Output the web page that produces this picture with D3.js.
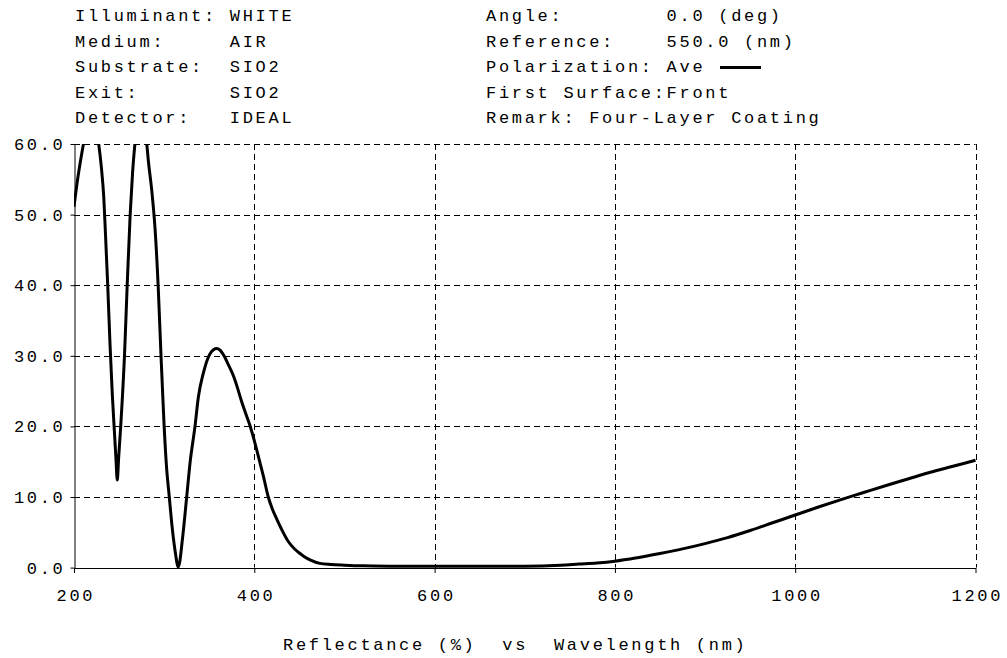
<!DOCTYPE html>
<html><head><meta charset="utf-8">
<script src="https://cdn.jsdelivr.net/npm/d3@7"></script>
<style>
body{margin:0;background:#fff}
text{font-family:"Liberation Mono",monospace;font-size:17px;letter-spacing:2.7px;white-space:pre;fill:#000}
</style>
</head><body><svg id="c" width="1007" height="658"></svg>
<script>
// Data (wavelength in nm, reflectance in %)
const wavelength = [200,204,208,212,216,220,224,227.4,230.5,233,235,237.4,240,242.5,244.7,246.5,248,249.5,251.8,256,259,262.3,265,267.7,271,274,277,280.6,282.4,286.2,289.9,293.5,296.2,299.8,302.5,305.7,308.4,312,315.7,320.6,325,328.7,334.2,338,343.4,350.9,358.3,362,366.4,371,376.7,381,386,390,395,400,405,410,415.5,420,424.8,430,437.7,445,450.7,456,461.8,472.9,485,500,520,550,600,650,700,740,760,780,800,825,850,875,900,925,950,975,1000,1025,1050,1075,1100,1125,1150,1175,1200];
const reflectance = [51.1,55,58.2,61,63,63.8,62.5,60,56.5,52.5,47,40,31.5,24.5,19.5,15.5,12.4,15.5,20,30,40,50,56,60.2,64,65.5,64,60.2,57.7,53.5,48,39.5,31,20.5,14.5,10,6.3,2.5,0.1,4.4,10,14.8,20,24.2,27.5,30.3,31.05,30.8,30,28.8,27.2,25.6,23.5,22,20.2,18,15.5,13,10,8.3,6.9,5.5,3.7,2.6,2,1.5,1.1,0.6,0.45,0.35,0.25,0.2,0.18,0.18,0.2,0.35,0.5,0.65,0.9,1.4,2,2.65,3.4,4.25,5.25,6.35,7.45,8.55,9.6,10.6,11.6,12.55,13.5,14.35,15.2];
const xTicks = [200,400,600,800,1000,1200];
const yTicks = [0,10,20,30,40,50,60];
const headerLeft = ["Illuminant: WHITE","Medium:     AIR","Substrate:  SIO2","Exit:       SIO2","Detector:   IDEAL"];
const headerRight = ["Angle:        0.0 (deg)","Reference:    550.0 (nm)","Polarization: Ave","First Surface:Front","Remark: Four-Layer Coating"];
const xTitle = "Reflectance (%)  vs  Wavelength (nm)";

const svg = d3.select("#c");
const x = d3.scaleLinear().domain([200,1200]).range([74,975.5]);
const y = d3.scaleLinear().domain([0,60]).range([567.6,144]);

// header
const baselines = [21,46.5,72,97.5,123];
svg.append("g").selectAll("text").data(headerLeft).join("text")
  .attr("x",75).attr("y",(d,i)=>baselines[i]).text(d=>d);
svg.append("g").selectAll("text").data(headerRight).join("text")
  .attr("x",486).attr("y",(d,i)=>baselines[i]).text(d=>d);
// legend line
svg.append("line").attr("x1",720).attr("x2",761).attr("y1",67.5).attr("y2",67.5)
  .attr("stroke","#000").attr("stroke-width",3);

// grid
const grid = svg.append("g").attr("stroke","#000").attr("stroke-width",1).attr("stroke-dasharray","6,4");
grid.selectAll(".h").data(yTicks.filter(d=>d>0)).join("line")
  .attr("x1",x(200)).attr("x2",x(1200)).attr("y1",d=>Math.round(y(d))+0.5).attr("y2",d=>Math.round(y(d))+0.5);
grid.selectAll(".v").data(xTicks.filter(d=>d>200)).join("line")
  .attr("y1",y(60)).attr("y2",y(0)).attr("x1",d=>Math.round(x(d))+0.5).attr("x2",d=>Math.round(x(d))+0.5);

// axes
const yAxis = d3.axisLeft(y).tickValues(yTicks).tickFormat(d3.format(".1f")).tickSize(4).tickSizeOuter(0).tickPadding(5);
const gy = svg.append("g").attr("transform","translate(74.5,0)").call(yAxis);
const xAxis = d3.axisBottom(x).tickValues(xTicks).tickFormat(d3.format("d")).tickSize(5).tickSizeOuter(0).tickPadding(16);
const gx = svg.append("g").attr("transform","translate(0,568)").call(xAxis);
[gx,gy].forEach(g=>{
  g.attr("font-family",null).attr("font-size",null);
  g.selectAll("path,line").attr("stroke","#000");
  g.selectAll("text").attr("fill","#000");
});
gx.selectAll("text").attr("dx",1.35);
gy.selectAll("text").attr("dx",0);

// clip
svg.append("clipPath").attr("id","clip").append("rect")
  .attr("x",x(200)).attr("y",y(60)).attr("width",x(1200)-x(200)+2).attr("height",y(0)-y(60)+3);

const pts = wavelength.map((w,i)=>[w,reflectance[i]]);
svg.append("path").datum(pts)
  .attr("clip-path","url(#clip)")
  .attr("fill","none").attr("stroke","#000").attr("stroke-width",3).attr("stroke-linejoin","round")
  .attr("d",d3.line().x(d=>x(d[0])).y(d=>y(d[1])).curve(d3.curveMonotoneX));

// title
svg.append("text").attr("x",283).attr("y",650).text(xTitle);
</script></body></html>
